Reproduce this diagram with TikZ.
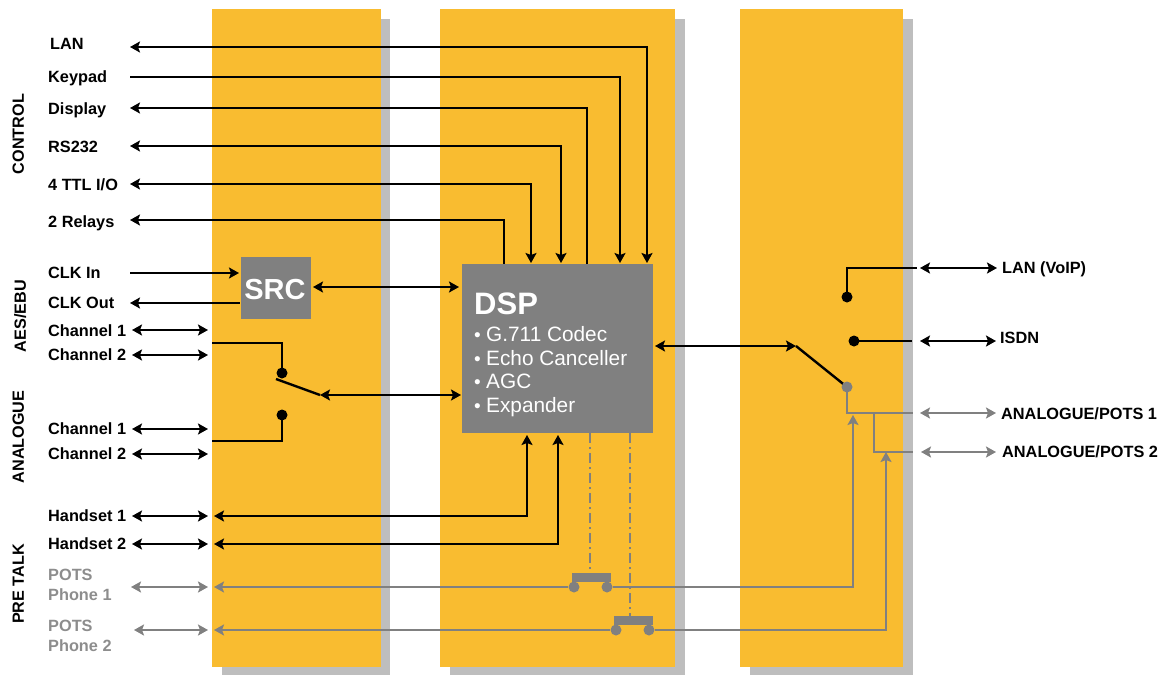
\documentclass[tikz,border=0pt]{standalone}
\usepackage{fontspec}
\setmainfont{Liberation Sans}
\usetikzlibrary{arrows.meta}
\definecolor{figY}{RGB}{249,188,48}
\definecolor{figS}{RGB}{190,190,190}
\definecolor{figG}{RGB}{128,128,128}
\newcommand{\dspitem}[1]{\makebox[12pt][l]{\fontsize{19}{19}\selectfont •}#1}
\tikzset{
  lbl/.style={anchor=west,inner sep=0pt,text height=11.7pt,text depth=0pt,font=\fontsize{16.3}{19}\selectfont\bfseries},
  greylbl/.style={lbl,text=figG!90},
  sidelbl/.style={rotate=90,inner sep=0pt,text height=11.7pt,text depth=0pt,font=\fontsize{16.2}{19}\selectfont\bfseries},
  bullet/.style={anchor=west,inner sep=0pt,text=white,text height=15pt,text depth=0pt,font=\fontsize{20.8}{24}\selectfont},
  bigtxt/.style={inner sep=0pt,text=white,text height=22pt,text depth=0pt,font=\fontsize{31}{34}\selectfont\bfseries},
  dot/.style={circle,fill=black,inner sep=0pt,minimum size=11pt},
  greydot/.style={dot,fill=figG},
  wire/.style={line width=2.4pt,black},
  greywire/.style={line width=2.4pt,figG},
  hookline/.style={line width=2pt,figG,dash pattern=on 10pt off 4pt on 2pt off 4pt},
  bar/.style={fill=figG,inner sep=0pt,minimum width=39pt,minimum height=9pt},
}
\begin{document}
\begin{tikzpicture}[x=1pt,y=-1pt,>={Stealth[length=10pt,width=11pt,inset=2pt]}]
\useasboundingbox (0,0) rectangle (1171,675);
% panels
\fill[figS] (222,19) rectangle (390,675);
\fill[figS] (450,19) rectangle (685,675);
\fill[figS] (750,19) rectangle (913,675);
\fill[figY] (212,9) rectangle (381,667);
\fill[figY] (440,9) rectangle (675,667);
\fill[figY] (740,9) rectangle (903,667);
% blocks
\node[fill=figG,inner sep=0pt,minimum width=70pt,minimum height=62pt] (src) at (276,288) {};
\node[fill=figG,inner sep=0pt,minimum width=191pt,minimum height=169pt] (dsp) at (557.5,348.5) {};
\node[bigtxt,font=\fontsize{29}{32}\selectfont\bfseries] (srcTitle) at (275,288) {SRC};
\node[bigtxt,anchor=west] (dspTitle) at (474,303) {DSP};
\node[bullet] (dspA) at (474,334) {\dspitem{G.711 Codec}};
\node[bullet] (dspB) at (474,358) {\dspitem{Echo Canceller}};
\node[bullet] (dspC) at (474,381) {\dspitem{AGC}};
\node[bullet] (dspD) at (474,405) {\dspitem{Expander}};
% side labels
\node[sidelbl] (sideCtrl) at (18,134) {CONTROL};
\node[sidelbl] (sideAes) at (20,316) {AES/EBU};
\node[sidelbl] (sideAna) at (18,437) {ANALOGUE};
\node[sidelbl] (sideTalk) at (18,584) {PRE TALK};
% left labels
\node[lbl] (lan) at (50,44) {LAN};
\node[lbl] (keypad) at (48,77) {Keypad};
\node[lbl] (display) at (48,109) {Display};
\node[lbl] (rs) at (48,147) {RS232};
\node[lbl] (ttl) at (48,185) {4 TTL I/O};
\node[lbl] (relays) at (48,222) {2 Relays};
\node[lbl] (clkIn) at (48,273) {CLK In};
\node[lbl] (clkOut) at (48,303) {CLK Out};
\node[lbl] (aesA) at (48,331) {Channel 1};
\node[lbl] (aesB) at (48,355) {Channel 2};
\node[lbl] (anaA) at (48,429) {Channel 1};
\node[lbl] (anaB) at (48,454) {Channel 2};
\node[lbl] (handA) at (48,516) {Handset 1};
\node[lbl] (handB) at (48,544) {Handset 2};
\node[greylbl] (potsA) at (48,575) {POTS};
\node[greylbl] (phoneA) at (48,595) {Phone 1};
\node[greylbl] (potsB) at (48,626) {POTS};
\node[greylbl] (phoneB) at (48,646) {Phone 2};
% right labels
\node[lbl] (rLan) at (1002,268) {LAN (VoIP)};
\node[lbl] (rIsdn) at (1000,338) {ISDN};
\node[lbl] (rPotsA) at (1001,414) {ANALOGUE/POTS 1};
\node[lbl] (rPotsB) at (1002,452) {ANALOGUE/POTS 2};
% control wires
\coordinate (lanEnd) at (130,47);
\coordinate (keyEnd) at (130,77);
\coordinate (dispEnd) at (130,108);
\coordinate (rsEnd) at (130,146);
\coordinate (ttlEnd) at (130,184);
\coordinate (relEnd) at (130,220);
\coordinate (lanIn) at (647,263);
\coordinate (keyIn) at (620,263);
\coordinate (dispIn) at (587,264);
\coordinate (rsIn) at (561,263);
\coordinate (ttlIn) at (531,263);
\coordinate (relIn) at (504,264);
\draw[wire,<->] (lanEnd) -| (lanIn);
\draw[wire,->] (keyEnd) -| (keyIn);
\draw[wire,<-] (dispEnd) -| (dispIn);
\draw[wire,<->] (rsEnd) -| (rsIn);
\draw[wire,<->] (ttlEnd) -| (ttlIn);
\draw[wire,<-] (relEnd) -| (relIn);
% clock and src
\coordinate (clkInEnd) at (130,273);
\coordinate (clkInSrc) at (239,273);
\coordinate (clkOutEnd) at (130,303);
\coordinate (clkOutSrc) at (240,303);
\coordinate (srcOut) at (313,287);
\coordinate (srcDsp) at (459,287);
\draw[wire,->] (clkInEnd) -- (clkInSrc);
\draw[wire,<-] (clkOutEnd) -- (clkOutSrc);
\draw[wire,<->] (srcOut) -- (srcDsp);
% input switch
\coordinate (aesAl) at (132,330); \coordinate (aesAr) at (208,330);
\coordinate (aesBl) at (132,355); \coordinate (aesBr) at (208,355);
\coordinate (anaAl) at (132,429); \coordinate (anaAr) at (208,429);
\coordinate (anaBl) at (132,454); \coordinate (anaBr) at (208,454);
\draw[wire,<->] (aesAl) -- (aesAr);
\draw[wire,<->] (aesBl) -- (aesBr);
\draw[wire,<->] (anaAl) -- (anaAr);
\draw[wire,<->] (anaBl) -- (anaBr);
\node[dot] (swTop) at (282,373) {};
\node[dot] (swBot) at (282,415) {};
\coordinate (aesIn) at (212,343);
\coordinate (anaIn) at (212,441);
\coordinate (armA) at (276,379);
\coordinate (armB) at (320,395);
\coordinate (armDsp) at (461,395);
\draw[wire] (aesIn) -| (swTop.center);
\draw[wire] (anaIn) -| (swBot.center);
\draw[wire] (armA) -- (armB);
\draw[wire,<->] (armB) -- (armDsp);
% handsets
\coordinate (handAl) at (132,516); \coordinate (handAr) at (208,516);
\coordinate (handBl) at (132,544); \coordinate (handBr) at (208,544);
\coordinate (handAw) at (214,516); \coordinate (handBw) at (214,544);
\coordinate (handAd) at (527,435); \coordinate (handBd) at (558,435);
\draw[wire,<->] (handAl) -- (handAr);
\draw[wire,<->] (handBl) -- (handBr);
\draw[wire,<->] (handAw) -| (handAd);
\draw[wire,<->] (handBw) -| (handBd);
% pots lines and hook contacts
\node[bar] (hookA) at (591.5,577.5) {};
\node[bar] (hookB) at (633,620.5) {};
\node[greydot] (hookAl) at (574,587) {};
\node[greydot] (hookAr) at (607,587) {};
\node[greydot] (hookBl) at (616,630) {};
\node[greydot] (hookBr) at (649,630) {};
\coordinate (potsAl) at (131,587); \coordinate (potsAr) at (208,587);
\coordinate (potsBl) at (134,630); \coordinate (potsBr) at (208,630);
\coordinate (potsAw) at (214,587); \coordinate (potsBw) at (214,630);
\coordinate (potsAup) at (853,415); \coordinate (potsBup) at (886,452);
\coordinate (dspHookA) at (590,433); \coordinate (dspHookB) at (630,433);
\draw[greywire,<->] (potsAl) -- (potsAr);
\draw[greywire,<->] (potsBl) -- (potsBr);
\draw[greywire,<-] (potsAw) -- (hookAl);
\draw[greywire,<-] (potsBw) -- (hookBl);
\draw[greywire,->] (hookAr) -| (potsAup);
\draw[greywire,->] (hookBr) -| (potsBup);
\draw[hookline] (dspHookA) -- (dspHookA |- hookA.north);
\draw[hookline] (dspHookB) -- (dspHookB |- hookB.north);
% output switch
\node[dot] (outLan) at (847,297) {};
\node[dot] (outIsdn) at (854,341) {};
\coordinate (dspOut) at (655,346);
\coordinate (armC) at (796,346);
\coordinate (armEnd) at (847,387);
\coordinate (wLan) at (917,268);
\coordinate (wIsdn) at (912,341);
\coordinate (wPotsA) at (913,413);
\coordinate (wPotsB) at (913,452);
\coordinate (teeA) at (874,413);
\coordinate (lanOutA) at (920,268); \coordinate (lanOutB) at (997,268);
\coordinate (isdnOutA) at (920,341); \coordinate (isdnOutB) at (996,341);
\coordinate (potsOutA) at (920,413); \coordinate (potsOutB) at (996,413);
\coordinate (potsOutC) at (921,452); \coordinate (potsOutD) at (996,452);
\draw[wire,<->] (dspOut) -- (armC);
\draw[wire] (armC) -- (armEnd);
\draw[greywire] (armEnd) |- (wPotsA);
\draw[greywire] (teeA) |- (wPotsB);
\node[greydot] (outGrey) at (armEnd) {};
\draw[wire] (outLan.center) |- (wLan);
\draw[wire] (outIsdn.center) -- (wIsdn);
\draw[wire,<->] (lanOutA) -- (lanOutB);
\draw[wire,<->] (isdnOutA) -- (isdnOutB);
\draw[greywire,<->] (potsOutA) -- (potsOutB);
\draw[greywire,<->] (potsOutC) -- (potsOutD);
\end{tikzpicture}
\end{document}
